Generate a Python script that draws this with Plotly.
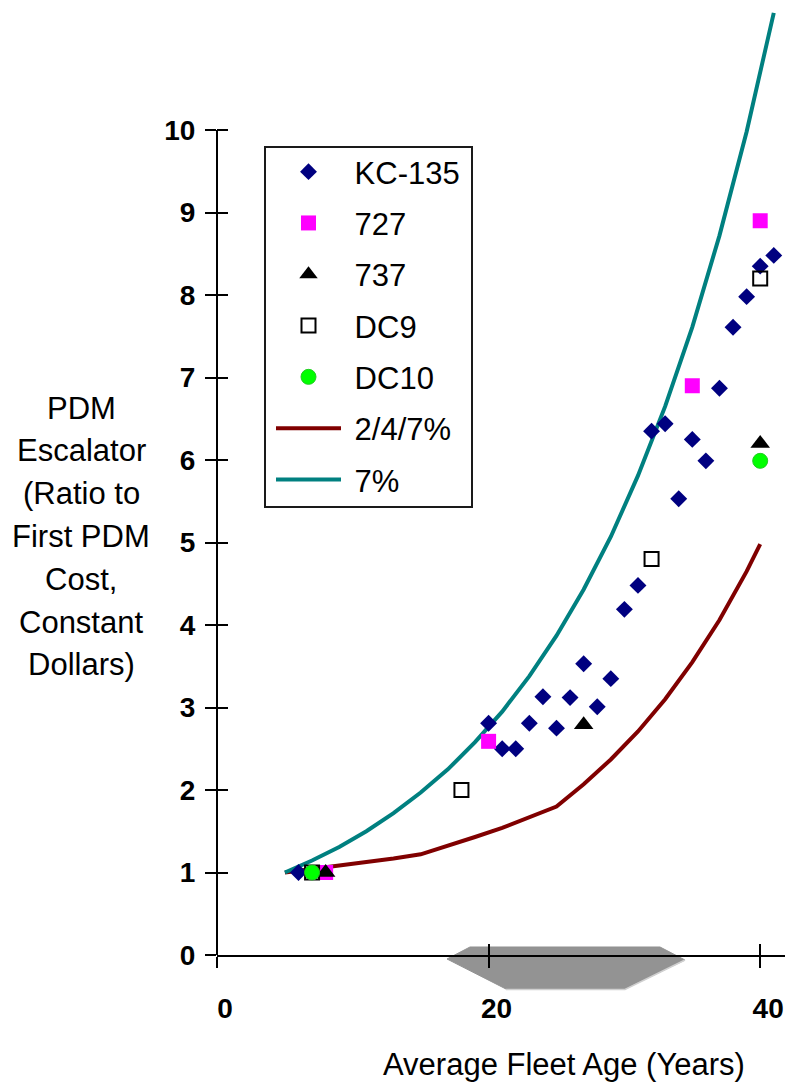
import plotly.graph_objects as go

# ---------------- data ----------------
kc_x = [6, 20, 21, 22, 23, 24, 25, 26, 27, 28, 29, 30, 31, 32, 33, 34, 35, 36, 37, 38, 39, 40, 41]
kc_y = [1.0, 2.81, 2.50, 2.50, 2.81, 3.13, 2.75, 3.12, 3.53, 3.01, 3.35, 4.19, 4.48,
        6.35, 6.44, 5.53, 6.25, 5.99, 6.87, 7.61, 7.98, 8.35, 8.48]
b727_x = [8, 20, 35, 40]
b727_y = [1.0, 2.59, 6.90, 8.90]
b737_x = [8, 27, 40]
b737_y = [1.0, 2.79, 6.20]
dc9_x = [7, 18, 32, 40]
dc9_y = [1.0, 2.0, 4.8, 8.2]
dc10_x = [7, 40]
dc10_y = [1.0, 5.99]
esc247_x = [5, 7, 9, 11, 13, 15, 17, 19, 21, 23, 25, 27, 29, 31, 33, 35, 37, 39, 40]
esc247_y = [1.0, 1.04, 1.08, 1.13, 1.17, 1.22, 1.32, 1.43, 1.54, 1.67, 1.80,
            2.07, 2.37, 2.71, 3.10, 3.55, 4.06, 4.65, 4.98]
esc7_x = [5, 7, 9, 11, 13, 15, 17, 19, 21, 23, 25, 27, 29, 31, 33, 35, 37, 39, 41]
esc7_y = [1.0, 1.145, 1.31, 1.50, 1.72, 1.97, 2.25, 2.58, 2.95, 3.38, 3.87,
          4.43, 5.07, 5.81, 6.65, 7.61, 8.72, 9.98, 11.42]
x_ticks = [0, 20, 40]
y_ticks = list(range(0, 11))

# ---------------- geometry ----------------
W, H = 787, 1084
ML, MR, MT, MB = 217, 2, 6, 129
PW, PH = W - ML - MR, H - MT - MB
X_RANGE = [0, PW / 13.58]
Y_RANGE = [0, PH / 82.5]

def px_to_paper(px, py):
    return (px - ML) / PW, (H - MB - py) / PH

def data_to_paper(xv, yv):
    return ((xv - X_RANGE[0]) / (X_RANGE[1] - X_RANGE[0]),
            (yv - Y_RANGE[0]) / (Y_RANGE[1] - Y_RANGE[0]))

FONT = "Liberation Sans, Arial, sans-serif"
SP = "\u00a0"

fig = go.Figure()

# lines (drawn under the markers)
fig.add_trace(go.Scatter(x=esc247_x, y=esc247_y, mode="lines", name=SP + "2/4/7%",
                         line=dict(color="#800000", width=4), legendrank=6, legendgroup="g6"))
fig.add_trace(go.Scatter(x=esc7_x, y=esc7_y, mode="lines", name=SP + "7%",
                         line=dict(color="#008080", width=4), legendrank=7, legendgroup="g7"))
# markers
fig.add_trace(go.Scatter(x=kc_x, y=kc_y, mode="markers", name=SP + "KC-135",
                         marker=dict(symbol="diamond", size=13, color="#000080"),
                         legendrank=1, legendgroup="g1"))
fig.add_trace(go.Scatter(x=b727_x, y=b727_y, mode="markers", name=SP + "727",
                         marker=dict(symbol="square", size=15, color="#FF00FF"),
                         legendrank=2, legendgroup="g2"))
fig.add_trace(go.Scatter(x=b737_x, y=b737_y, mode="markers", name=SP + "737",
                         marker=dict(symbol="triangle-up", size=17, color="#000000"),
                         legendrank=3, legendgroup="g3"))
fig.add_trace(go.Scatter(x=dc9_x, y=dc9_y, mode="markers", name=SP + "DC9",
                         marker=dict(symbol="square-open", size=14, color="#000000",
                                     line=dict(width=2, color="#000000")),
                         legendrank=4, legendgroup="g4"))
fig.add_trace(go.Scatter(x=dc10_x, y=dc10_y, mode="markers", name=SP + "DC10",
                         marker=dict(symbol="circle", size=15, color="#00FF00",
                                     line=dict(width=1, color="#22CC22")),
                         legendrank=5, legendgroup="g5"))

# invisible trace for the overlay axes that provide the crossing ticks
fig.add_trace(go.Scatter(x=[X_RANGE[0]], y=[Y_RANGE[0]], xaxis="x2", yaxis="y2",
                         mode="markers", marker=dict(opacity=0), showlegend=False,
                         hoverinfo="skip"))

shapes = []
# y axis line (0..10 only)
x0p, y0p = data_to_paper(0, 0)
x1p, y1p = data_to_paper(0, 10)
shapes.append(dict(type="line", xref="paper", yref="paper", x0=x0p, x1=x1p, y0=y0p, y1=y1p,
                   line=dict(color="black", width=2), layer="above"))
# gray indicator below the x axis
poly_px = [(470, 947), (660, 947), (685, 960), (625, 989), (506, 989), (447, 959)]
pts = [px_to_paper(a, b) for a, b in poly_px]
path = "M " + " L ".join(f"{a:.5f},{b:.5f}" for a, b in pts) + " Z"
shapes.append(dict(type="path", xref="paper", yref="paper", path=path,
                   fillcolor="#939393", line=dict(color="#939393", width=1), layer="below"))
# light edge on bottom-right
e = [px_to_paper(685, 960), px_to_paper(625, 989.5), px_to_paper(506, 989.5)]
shapes.append(dict(type="path", xref="paper", yref="paper",
                   path=f"M {e[0][0]:.5f},{e[0][1]:.5f} L {e[1][0]:.5f},{e[1][1]:.5f} L {e[2][0]:.5f},{e[2][1]:.5f}",
                   line=dict(color="#D0D0D0", width=1.5), layer="below"))
# legend box
lb0 = px_to_paper(265, 507)
lb1 = px_to_paper(472, 147)
shapes.append(dict(type="rect", xref="paper", yref="paper", x0=lb0[0], y0=lb0[1], x1=lb1[0], y1=lb1[1],
                   line=dict(color="#1a1a1a", width=2), fillcolor="rgba(0,0,0,0)", layer="above"))

annotations = []
ytitle = ["PDM", "Escalator", "(Ratio to", "First PDM", "Cost,", "Constant", "Dollars)"]
for i, t in enumerate(ytitle):
    ax, ay = px_to_paper(81, 408 + 42.8 * i)
    annotations.append(dict(text=t, xref="paper", yref="paper", x=ax, y=ay, showarrow=False,
                            xanchor="center", yanchor="middle",
                            font=dict(family=FONT, size=31, color="black")))
tx, ty = px_to_paper(564, 1064)
annotations.append(dict(text="Average Fleet Age (Years)", xref="paper", yref="paper", x=tx, y=ty,
                        showarrow=False, xanchor="center", yanchor="middle",
                        font=dict(family=FONT, size=31, color="black")))

lgx, lgy = px_to_paper(271, 145)

fig.update_layout(
    width=W, height=H,
    margin=dict(l=ML, r=MR, t=MT, b=MB, pad=0),
    paper_bgcolor="white", plot_bgcolor="white",
    showlegend=True,
    legend=dict(x=lgx, y=lgy, xanchor="left", yanchor="top",
                font=dict(family=FONT, size=31, color="black"),
                bgcolor="rgba(0,0,0,0)", borderwidth=0,
                itemwidth=65, tracegroupgap=8, traceorder="grouped",
                itemclick=False, itemdoubleclick=False),
    xaxis=dict(range=X_RANGE, tickvals=x_ticks, ticktext=[str(v) for v in x_ticks],
               ticks="outside", ticklen=11, tickwidth=2, tickcolor="black",
               showline=True, linecolor="black", linewidth=2,
               showgrid=False, zeroline=False,
               tickfont=dict(family=FONT, size=28, color="black", weight="bold"),
               ticklabelstandoff=16, ticklabelshift=8, fixedrange=True),
    yaxis=dict(range=Y_RANGE, tickvals=y_ticks, ticktext=[str(v) for v in y_ticks],
               ticks="outside", ticklen=11, tickwidth=2, tickcolor="black",
               showline=False, showgrid=False, zeroline=False,
               tickfont=dict(family=FONT, size=28, color="black", weight="bold"),
               ticklabelstandoff=4, fixedrange=True),
    xaxis2=dict(range=X_RANGE, overlaying="x", anchor="y2", side="bottom",
                tickvals=x_ticks, ticks="inside", ticklen=11, tickwidth=2, tickcolor="black",
                showticklabels=False, showline=False, showgrid=False, zeroline=False,
                fixedrange=True),
    yaxis2=dict(range=Y_RANGE, overlaying="y", anchor="x2", side="left",
                tickvals=y_ticks, ticks="inside", ticklen=11, tickwidth=2, tickcolor="black",
                showticklabels=False, showline=False, showgrid=False, zeroline=False,
                fixedrange=True),
    shapes=shapes,
    annotations=annotations,
)

fig.write_html("out.html", config={"displayModeBar": False})
